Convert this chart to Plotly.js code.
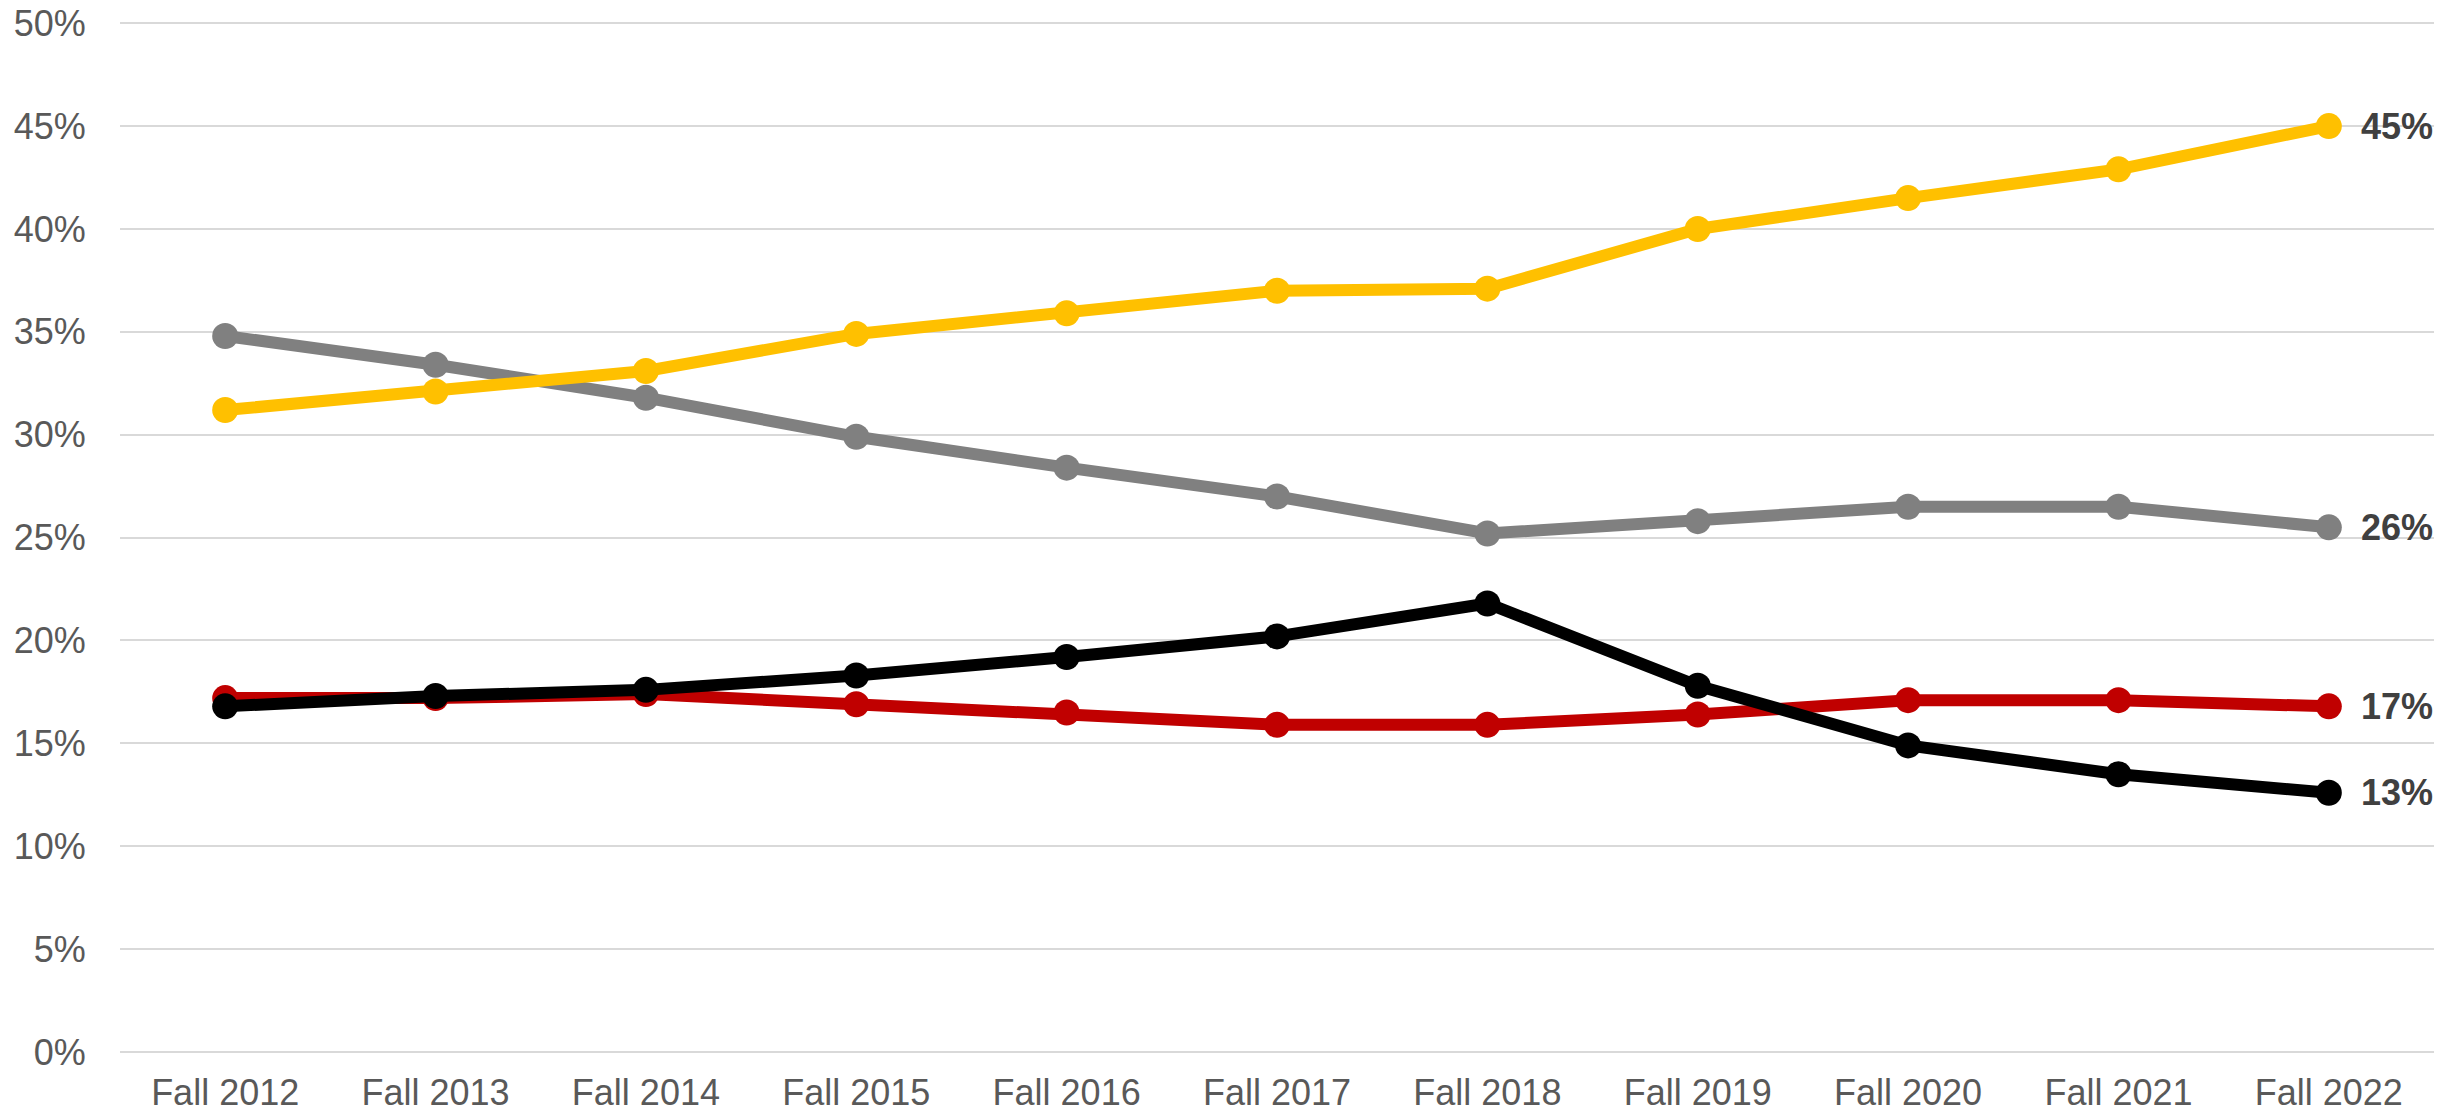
<!DOCTYPE html>
<html>
<head>
<meta charset="utf-8">
<script src="https://cdn.plot.ly/plotly-3.0.1.min.js"></script>
<style>html,body{margin:0;padding:0;background:#fff;}#chart{width:2459px;height:1113px;}</style>
</head>
<body>
<div id="chart"></div>
<script>
const categories = ["Fall 2012","Fall 2013","Fall 2014","Fall 2015","Fall 2016","Fall 2017","Fall 2018","Fall 2019","Fall 2020","Fall 2021","Fall 2022"];
const grayValues   = [34.8, 33.4, 31.8, 29.9, 28.4, 27.0, 25.2, 25.8, 26.5, 26.5, 25.5];
const yellowValues = [31.2, 32.1, 33.1, 34.9, 35.9, 37.0, 37.1, 40.0, 41.5, 42.9, 45.0];
const redValues    = [17.2, 17.2, 17.4, 16.9, 16.5, 15.9, 15.9, 16.4, 17.1, 17.1, 16.8];
const blackValues  = [16.8, 17.3, 17.6, 18.3, 19.2, 20.2, 21.8, 17.8, 14.9, 13.5, 12.6];
const endLabels = {gray: "26%", yellow: "45%", red: "17%", black: "13%"};
const yTickVals = [0,5,10,15,20,25,30,35,40,45,50];
const yTickText = ["0%","5%","10%","15%","20%","25%","30%","35%","40%","45%","50%"];

const series = [
  {key:"gray", y: grayValues, color:"#808080"},
  {key:"yellow", y: yellowValues, color:"#FFC000"},
  {key:"red", y: redValues, color:"#C00000"},
  {key:"black", y: blackValues, color:"#000000"}
];

const traces = series.map(s => ({
  type: "scatter",
  mode: "lines+markers",
  x: categories,
  y: s.y,
  line: {color: s.color, width: 12},
  marker: {color: s.color, size: 26},
  hoverinfo: "skip",
  showlegend: false
}));

const annotations = series.map(s => ({
  x: categories[categories.length-1],
  y: s.y[s.y.length-1],
  xref: "x", yref: "y",
  text: "<b>" + endLabels[s.key] + "</b>",
  showarrow: false,
  xanchor: "left",
  yanchor: "middle",
  xshift: 30,
  font: {family: "Liberation Sans, Arial, sans-serif", size: 36, color: "#404040"}
}));

const layout = {
  width: 2459, height: 1113,
  margin: {l: 120, r: 25, t: 22, b: 61},
  paper_bgcolor: "#ffffff",
  plot_bgcolor: "#ffffff",
  showlegend: false,
  xaxis: {
    type: "category",
    range: [-0.5, 10.5],
    showgrid: false,
    zeroline: false,
    showline: false,
    ticks: "outside",
    ticklen: 9,
    tickcolor: "rgba(0,0,0,0)",
    tickfont: {family: "Liberation Sans, Arial, sans-serif", size: 36, color: "#595959"}
  },
  yaxis: {
    range: [0, 50.06],
    tickvals: yTickVals,
    ticktext: yTickText,
    showgrid: true,
    gridcolor: "#D9D9D9",
    gridwidth: 2,
    zeroline: true,
    zerolinecolor: "#D9D9D9",
    zerolinewidth: 2,
    showline: false,
    ticks: "outside",
    ticklen: 26,
    tickcolor: "rgba(0,0,0,0)",
    tickfont: {family: "Liberation Sans, Arial, sans-serif", size: 36, color: "#595959"}
  },
  annotations: annotations
};

Plotly.newPlot("chart", traces, layout, {staticPlot: true, displayModeBar: false});
</script>
</body>
</html>
